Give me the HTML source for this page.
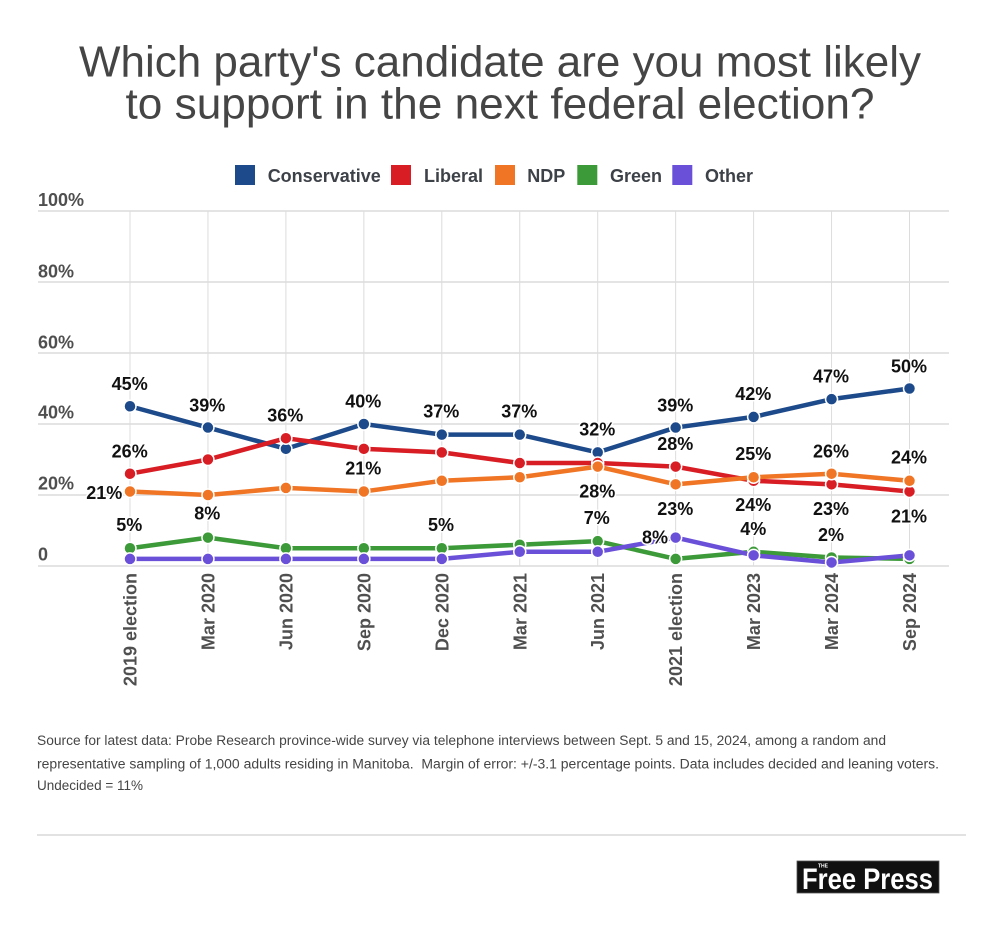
<!DOCTYPE html>
<html>
<head>
<meta charset="utf-8">
<style>
  html,body{margin:0;padding:0;background:#fff;}
  svg{display:block;}
  text{font-family:"Liberation Sans", Arial, sans-serif;}
</style>
</head>
<body>
<svg width="1000" height="937" viewBox="0 0 1000 937" xmlns="http://www.w3.org/2000/svg">
  <rect width="1000" height="937" fill="#fff"/>

  <!-- Title -->
  <text x="500" y="76.5" text-anchor="middle" font-size="44" fill="#454545" textLength="842" lengthAdjust="spacingAndGlyphs">Which party's candidate are you most likely</text>
  <text x="500" y="118.5" text-anchor="middle" font-size="44" fill="#454545" textLength="749" lengthAdjust="spacingAndGlyphs">to support in the next federal election?</text>

  <!-- Legend -->
  <g font-size="18" font-weight="bold" fill="#3d4148">
    <rect x="235" y="165" width="20" height="20" fill="#1d4a8a"/>
    <text x="267.7" y="182">Conservative</text>
    <rect x="391" y="165" width="20" height="20" fill="#d81d25"/>
    <text x="424" y="182">Liberal</text>
    <rect x="495" y="165" width="20" height="20" fill="#f07525"/>
    <text x="527.3" y="182">NDP</text>
    <rect x="577.3" y="165" width="20" height="20" fill="#3c9a38"/>
    <text x="610" y="182">Green</text>
    <rect x="672.3" y="165" width="20" height="20" fill="#6a50d8"/>
    <text x="705" y="182">Other</text>
  </g>

  <!-- Grid -->
  <g stroke="#dcdcdc" stroke-width="1.5">
    <line x1="38" y1="211" x2="949" y2="211"/>
    <line x1="38" y1="282" x2="949" y2="282"/>
    <line x1="38" y1="353" x2="949" y2="353"/>
    <line x1="38" y1="424" x2="949" y2="424"/>
    <line x1="38" y1="495" x2="949" y2="495"/>
    <line x1="38" y1="566" x2="949" y2="566"/>
  </g>
  <g stroke="#dcdcdc" stroke-width="1">
    <line x1="130" y1="211" x2="130" y2="566"/>
    <line x1="207.95" y1="211" x2="207.95" y2="566"/>
    <line x1="285.9" y1="211" x2="285.9" y2="566"/>
    <line x1="363.85" y1="211" x2="363.85" y2="566"/>
    <line x1="441.8" y1="211" x2="441.8" y2="566"/>
    <line x1="519.75" y1="211" x2="519.75" y2="566"/>
    <line x1="597.7" y1="211" x2="597.7" y2="566"/>
    <line x1="675.65" y1="211" x2="675.65" y2="566"/>
    <line x1="753.6" y1="211" x2="753.6" y2="566"/>
    <line x1="831.55" y1="211" x2="831.55" y2="566"/>
    <line x1="909.5" y1="211" x2="909.5" y2="566"/>
  </g>

  <!-- Y axis labels -->
  <g font-size="18" font-weight="bold" fill="#4f4f4f">
    <text x="38" y="206">100%</text>
    <text x="38" y="277.3">80%</text>
    <text x="38" y="348.7">60%</text>
    <text x="38" y="418.7">40%</text>
    <text x="38" y="489.3">20%</text>
    <text x="38" y="560.7">0</text>
  </g>

  <!-- X axis labels -->
  <g font-size="18" font-weight="bold" fill="#4f4f4f" text-anchor="end">
    <text transform="translate(136.5,573) rotate(-90)">2019 election</text>
    <text transform="translate(214.45,573) rotate(-90)">Mar 2020</text>
    <text transform="translate(292.4,573) rotate(-90)">Jun 2020</text>
    <text transform="translate(370.35,573) rotate(-90)">Sep 2020</text>
    <text transform="translate(448.3,573) rotate(-90)">Dec 2020</text>
    <text transform="translate(526.25,573) rotate(-90)">Mar 2021</text>
    <text transform="translate(604.2,573) rotate(-90)">Jun 2021</text>
    <text transform="translate(682.15,573) rotate(-90)">2021 election</text>
    <text transform="translate(760.1,573) rotate(-90)">Mar 2023</text>
    <text transform="translate(838.05,573) rotate(-90)">Mar 2024</text>
    <text transform="translate(916,573) rotate(-90)">Sep 2024</text>
  </g>

  <!-- Series -->
  <g fill="none" stroke-width="4.5" stroke-linejoin="round" stroke-linecap="round">
    <!-- Conservative -->
    <polyline stroke="#1d4a8a" points="130,406.25 207.95,427.55 285.9,448.85 363.85,424 441.8,434.65 519.75,434.65 597.7,452.4 675.65,427.55 753.6,416.9 831.55,399.15 909.5,388.5"/>
    <g fill="#1d4a8a" stroke="#fff" stroke-width="1.5">
      <circle cx="130" cy="406.25" r="6"/><circle cx="207.95" cy="427.55" r="6"/><circle cx="285.9" cy="448.85" r="6"/>
      <circle cx="363.85" cy="424" r="6"/><circle cx="441.8" cy="434.65" r="6"/><circle cx="519.75" cy="434.65" r="6"/>
      <circle cx="597.7" cy="452.4" r="6"/><circle cx="675.65" cy="427.55" r="6"/><circle cx="753.6" cy="416.9" r="6"/>
      <circle cx="831.55" cy="399.15" r="6"/><circle cx="909.5" cy="388.5" r="6"/>
    </g>
    <!-- Liberal -->
    <polyline stroke="#d81d25" points="130,473.7 207.95,459.5 285.9,438.2 363.85,448.85 441.8,452.4 519.75,463.05 597.7,463.05 675.65,466.6 753.6,480.8 831.55,484.35 909.5,491.45"/>
    <g fill="#d81d25" stroke="#fff" stroke-width="1.5">
      <circle cx="130" cy="473.7" r="6"/><circle cx="207.95" cy="459.5" r="6"/><circle cx="285.9" cy="438.2" r="6"/>
      <circle cx="363.85" cy="448.85" r="6"/><circle cx="441.8" cy="452.4" r="6"/><circle cx="519.75" cy="463.05" r="6"/>
      <circle cx="597.7" cy="463.05" r="6"/><circle cx="675.65" cy="466.6" r="6"/><circle cx="753.6" cy="480.8" r="6"/>
      <circle cx="831.55" cy="484.35" r="6"/><circle cx="909.5" cy="491.45" r="6"/>
    </g>
    <!-- NDP -->
    <polyline stroke="#f07525" points="130,491.45 207.95,495 285.9,487.9 363.85,491.45 441.8,480.8 519.75,477.25 597.7,466.6 675.65,484.35 753.6,477.25 831.55,473.7 909.5,480.8"/>
    <g fill="#f07525" stroke="#fff" stroke-width="1.5">
      <circle cx="130" cy="491.45" r="6"/><circle cx="207.95" cy="495" r="6"/><circle cx="285.9" cy="487.9" r="6"/>
      <circle cx="363.85" cy="491.45" r="6"/><circle cx="441.8" cy="480.8" r="6"/><circle cx="519.75" cy="477.25" r="6"/>
      <circle cx="597.7" cy="466.6" r="6"/><circle cx="675.65" cy="484.35" r="6"/><circle cx="753.6" cy="477.25" r="6"/>
      <circle cx="831.55" cy="473.7" r="6"/><circle cx="909.5" cy="480.8" r="6"/>
    </g>
    <!-- Green -->
    <polyline stroke="#3c9a38" points="130,548.25 207.95,537.6 285.9,548.25 363.85,548.25 441.8,548.25 519.75,544.7 597.7,541.15 675.65,558.9 753.6,551.8 831.55,557.5 909.5,558.9"/>
    <g fill="#3c9a38" stroke="#fff" stroke-width="1.5">
      <circle cx="130" cy="548.25" r="6"/><circle cx="207.95" cy="537.6" r="6"/><circle cx="285.9" cy="548.25" r="6"/>
      <circle cx="363.85" cy="548.25" r="6"/><circle cx="441.8" cy="548.25" r="6"/><circle cx="519.75" cy="544.7" r="6"/>
      <circle cx="597.7" cy="541.15" r="6"/><circle cx="675.65" cy="558.9" r="6"/><circle cx="753.6" cy="551.8" r="6"/>
      <circle cx="831.55" cy="557.5" r="6"/><circle cx="909.5" cy="558.9" r="6"/>
    </g>
    <!-- Other -->
    <polyline stroke="#6a50d8" points="130,558.9 207.95,558.9 285.9,558.9 363.85,558.9 441.8,558.9 519.75,551.8 597.7,551.8 675.65,537.6 753.6,555.35 831.55,562.45 909.5,555.35"/>
    <g fill="#6a50d8" stroke="#fff" stroke-width="1.5">
      <circle cx="130" cy="558.9" r="6"/><circle cx="207.95" cy="558.9" r="6"/><circle cx="285.9" cy="558.9" r="6"/>
      <circle cx="363.85" cy="558.9" r="6"/><circle cx="441.8" cy="558.9" r="6"/><circle cx="519.75" cy="551.8" r="6"/>
      <circle cx="597.7" cy="551.8" r="6"/><circle cx="675.65" cy="537.6" r="6"/><circle cx="753.6" cy="555.35" r="6"/>
      <circle cx="831.55" cy="562.45" r="6"/><circle cx="909.5" cy="555.35" r="6"/>
    </g>
  </g>

  <!-- Data labels -->
  <g font-size="18" font-weight="bold" fill="#111" text-anchor="middle" stroke="#fff" stroke-width="3" paint-order="stroke" stroke-linejoin="round">
    <!-- Conservative -->
    <text x="129.7" y="390">45%</text>
    <text x="207.3" y="411.7">39%</text>
    <text x="285.3" y="421.7">36%</text>
    <text x="363.3" y="407.3">40%</text>
    <text x="441.3" y="417.3">37%</text>
    <text x="519.3" y="417.3">37%</text>
    <text x="597.3" y="435.7">32%</text>
    <text x="675.3" y="411.7">39%</text>
    <text x="753.3" y="400">42%</text>
    <text x="831" y="382.3">47%</text>
    <text x="909" y="372.3">50%</text>
    <!-- Upper/lower mid labels -->
    <text x="129.7" y="457.3">26%</text>
    <text x="363.3" y="474.7">21%</text>
    <text x="675.3" y="450">28%</text>
    <text x="753.3" y="460">25%</text>
    <text x="831" y="457.7">26%</text>
    <text x="909" y="463.3">24%</text>
    <text x="597.3" y="497.3">28%</text>
    <text x="675.3" y="515">23%</text>
    <text x="753.3" y="511">24%</text>
    <text x="831" y="515">23%</text>
    <text x="909" y="522.7">21%</text>
    <!-- Small values -->
    <text x="207.3" y="519.3">8%</text>
    <text x="129.3" y="531">5%</text>
    <text x="441" y="531">5%</text>
    <text x="596.7" y="524">7%</text>
    <text x="753.3" y="535">4%</text>
    <text x="831" y="541">2%</text>
    <text x="122.3" y="499" text-anchor="end">21%</text>
    <text x="668" y="543.3" text-anchor="end">8%</text>
  </g>

  <!-- Footer -->
  <g font-size="13.5" fill="#454545">
    <text x="37" y="745" textLength="849" lengthAdjust="spacingAndGlyphs">Source for latest data: Probe Research province-wide survey via telephone interviews between Sept. 5 and 15, 2024, among a random and</text>
    <text x="37" y="768.3" textLength="902" lengthAdjust="spacingAndGlyphs" xml:space="preserve">representative sampling of 1,000 adults residing in Manitoba.  Margin of error: +/-3.1 percentage points. Data includes decided and leaning voters.</text>
    <text x="37" y="790" textLength="106" lengthAdjust="spacingAndGlyphs">Undecided = 11%</text>
  </g>

  <line x1="37" y1="835" x2="966" y2="835" stroke="#e2e2e2" stroke-width="2"/>

  <!-- Logo -->
  <rect x="797" y="861" width="142" height="32" fill="#111" stroke="#555" stroke-width="0.8"/>
  <text x="818" y="867.5" font-size="5" font-weight="bold" fill="#fff">THE</text>
  <text x="802" y="889" font-size="30" font-weight="bold" fill="#fff" textLength="131" lengthAdjust="spacingAndGlyphs">Free Press</text>
</svg>
</body>
</html>
